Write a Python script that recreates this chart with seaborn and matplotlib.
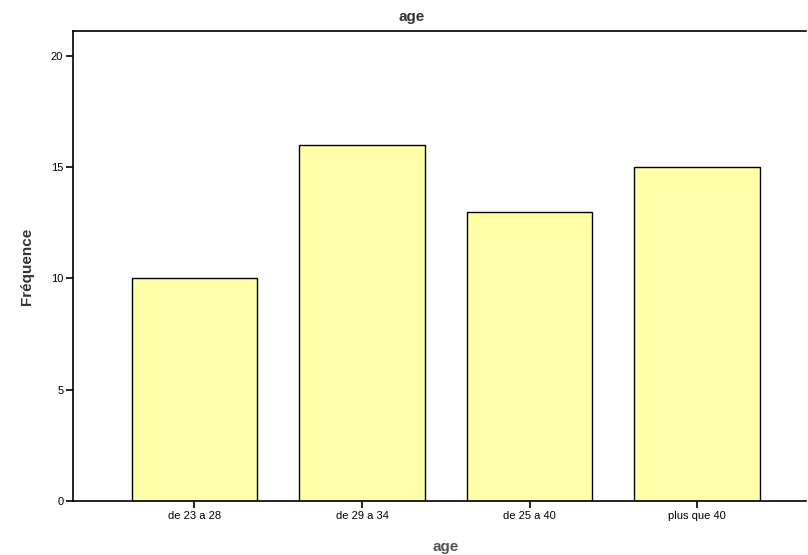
import matplotlib
matplotlib.use("Agg")
import matplotlib.pyplot as plt
import seaborn as sns
import pandas as pd

categories = ["de 23 a 28", "de 29 a 34", "de 25 a 40", "plus que 40"]
frequencies = [10, 16, 13, 15]
y_ticks = [0, 5, 10, 15, 20]

df = pd.DataFrame({"age": categories, "Fréquence": frequencies})

sns.set_style("white")
plt.rcParams['font.family'] = ['Liberation Sans', 'DejaVu Sans']

fig = plt.figure(figsize=(8.08, 5.55), dpi=100)
ax = fig.add_axes([73 / 808, 54 / 555, 733 / 808, 470 / 555])

sns.barplot(data=df, x="age", y="Fréquence", color="#FFFFA8",
            edgecolor="black", linewidth=1.0, width=0.75, saturation=1, ax=ax)

ax.set_xlim(-0.725, 3.65)
ax.set_ylim(0, 21.12)
ax.set_yticks(y_ticks)
ax.tick_params(axis="both", direction="out", length=5, width=1.2,
               color="black", labelcolor="black", labelsize=8, pad=2,
               left=True, bottom=True)

for side in ["left", "bottom", "top"]:
    ax.spines[side].set_color("black")
    ax.spines[side].set_linewidth(1.2)
ax.spines["right"].set_visible(False)

ax.set_title("age", fontsize=11, fontweight="bold", color="#333333", pad=7, x=0.4625)
ax.set_xlabel("age", fontsize=11, fontweight="bold", color="#555555", labelpad=14, x=0.509)
ax.set_ylabel("Fréquence", fontsize=11, fontweight="bold", color="#333333", labelpad=12)

fig.savefig("out.png", dpi=100)
